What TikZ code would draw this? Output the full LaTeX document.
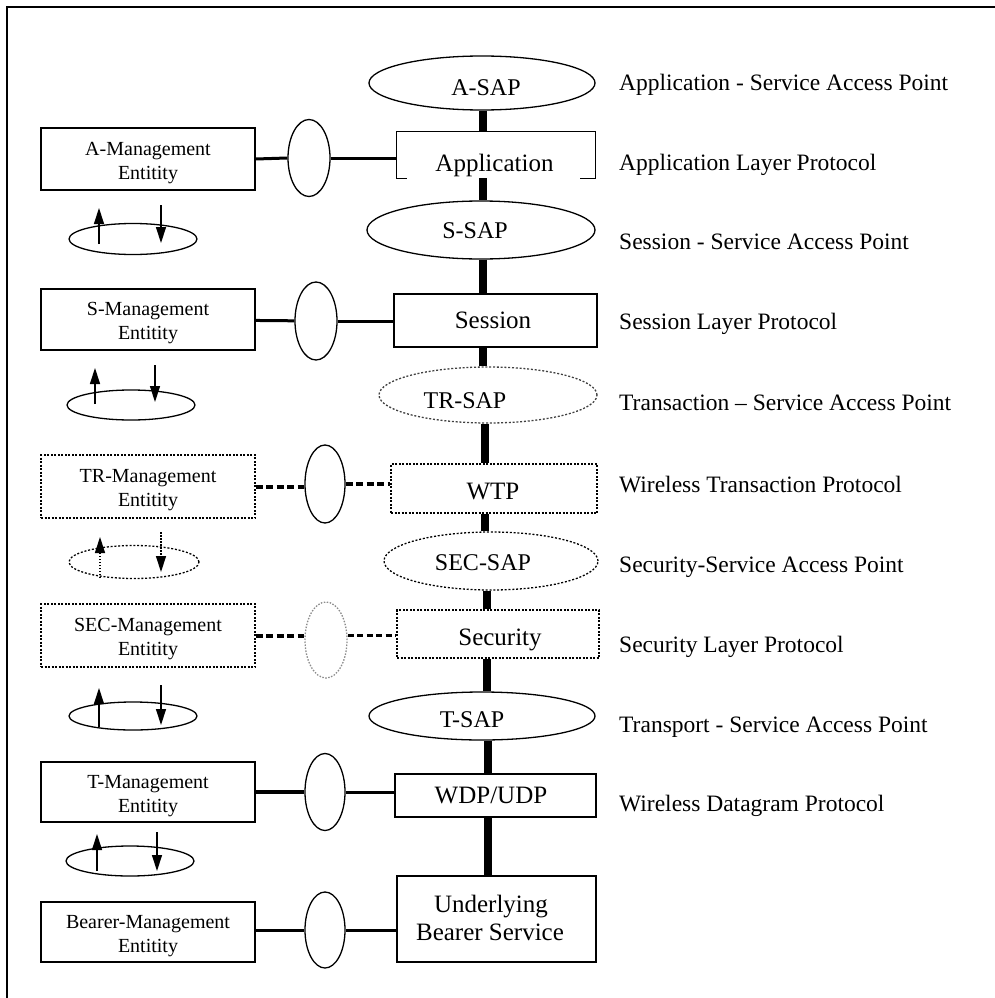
\documentclass[tikz,border=0pt]{standalone}
\usepackage{fontspec}
\setmainfont{Liberation Serif}
\usetikzlibrary{shapes.geometric,arrows.meta,calc}
\begin{document}
\begin{tikzpicture}[x=1pt,y=-1pt,
  box/.style={draw, line width=1.3pt, rectangle, inner sep=0pt},
  dbox/.style={box, dash pattern=on 2pt off 1.5pt},
  ell/.style={draw, ellipse, line width=1.3pt, inner sep=0pt},
  dell/.style={ell, dash pattern=on 2pt off 1.8pt},
  mg/.style={box, minimum width=214pt, align=center, font=\fontsize{20}{24}\selectfont},
  sap/.style={font=\fontsize{24}{28}\selectfont, inner sep=0pt, anchor=base},
  lay/.style={font=\fontsize{25}{29}\selectfont, inner sep=0pt, anchor=base},
  rl/.style={font=\fontsize{23.5}{28}\selectfont, inner sep=0pt, anchor=base west},
  vconn/.style={line width=8pt},
  hconn/.style={line width=3pt},
  dconn/.style={line width=4pt, dash pattern=on 7pt off 3.5pt},
  loopell/.style={ell, minimum width=128pt},
  uparr/.style={line width=1.3pt, -{Triangle[length=16pt,width=10pt]}},
]
\useasboundingbox (0,0) rectangle (995,998);
% frame
\draw[line width=2pt] (7,998) -- (7,7) -- (995,7);

% column coordinates
\coordinate (c483) at (483,0);
\coordinate (c485) at (485,0);
\coordinate (c487) at (487,0);
\coordinate (c488) at (488,0);

% central stack
\node[ell, minimum width=226pt, minimum height=54pt] (asap) at (482,83) {};
\node[sap] (asapT) at (486,95) {A-SAP};
\node[inner sep=0pt, minimum width=198pt, minimum height=46pt] (app) at (496,155) {};
\draw[line width=1.3pt] (app.south west) ++(10,0) -- (app.south west) -- (app.north west) -- (app.north east) -- (app.south east) -- ++(-15,0);
\node[lay] (appT) at (494.5,171) {Application};
\node[ell, minimum width=228pt, minimum height=58pt] (ssap) at (481,230) {};
\node[sap] (ssapT) at (475,238) {S-SAP};
\node[box, minimum width=203pt, minimum height=53pt] (session) at (495.5,320.5) {};
\node[lay] (sessionT) at (493,328) {Session};
\node[dell, draw=black!75, minimum width=218pt, minimum height=56pt] (trsap) at (488,395) {};
\node[sap] (trsapT) at (465,408) {TR-SAP};
\node[dbox, minimum width=206pt, minimum height=49pt] (wtp) at (494,488.5) {};
\node[lay] (wtpT) at (493,499) {WTP};
\node[dell, minimum width=214pt, minimum height=58pt] (secsap) at (491,561) {};
\node[sap] (secsapT) at (483,570) {SEC-SAP};
\node[dbox, minimum width=202pt, minimum height=48pt] (security) at (498,634) {};
\node[lay] (securityT) at (500,645) {Security};
\node[ell, minimum width=226pt, minimum height=48pt] (tsap) at (482,716) {};
\node[sap] (tsapT) at (472,727) {T-SAP};
\node[box, minimum width=201pt, minimum height=43pt] (wdp) at (495.5,795.5) {};
\node[lay] (wdpT) at (491,803) {WDP/UDP};
\node[box, minimum width=199pt, minimum height=86pt] (under) at (496.5,919) {};
\node[lay] (underT1) at (491,912) {Underlying};
\node[lay] (underT2) at (490,940) {Bearer Service};

% vertical connectors
\draw[vconn] (asap.south -| c483) -- (app.north -| c483);
\draw[vconn] (app.south -| c483) -- (ssap.north -| c483);
\draw[vconn] (ssap.south -| c483) -- (session.north -| c483);
\draw[vconn] (session.south -| c483) -- (trsap.north -| c483);
\draw[vconn] (trsap.south -| c485) -- (wtp.north -| c485);
\draw[vconn] (wtp.south -| c485) -- (secsap.north -| c485);
\draw[vconn] (secsap.south -| c487) -- (security.north -| c487);
\draw[vconn] (security.south -| c487) -- (tsap.north -| c487);
\draw[vconn] (tsap.south -| c488) -- (wdp.north -| c488);
\draw[vconn] (wdp.south -| c488) -- (under.north -| c488);

% management entities
\node[mg, minimum height=62pt] (amg) at (148,159) {\rule{0pt}{21pt}A-Management\\Entitity};
\node[mg, minimum height=61pt] (smg) at (148,319.5) {\rule{0pt}{21pt}S-Management\\Entitity};
\node[mg, dash pattern=on 2pt off 1.5pt, minimum height=63pt] (trmg) at (148,486.5) {\rule{0pt}{21pt}TR-Management\\Entitity};
\node[mg, dash pattern=on 2pt off 1.5pt, minimum height=63pt] (secmg) at (148,635.5) {\rule{0pt}{21pt}SEC-Management\\Entitity};
\node[mg, minimum height=60pt] (tmg) at (148,792) {\rule{0pt}{21pt}T-Management\\Entitity};
\node[mg, minimum height=60pt] (bmg) at (148,932) {\rule{0pt}{21pt}Bearer-Management\\Entitity};

% small vertical ellipses
\node[ell, minimum width=42pt, minimum height=77pt] (aell) at (309,158) {};
\node[ell, minimum width=42pt, minimum height=78pt] (sell) at (316,321) {};
\node[ell, minimum width=40pt, minimum height=78pt] (trell) at (325,484) {};
\node[ell, draw=black!45, dash pattern=on 1.5pt off 1.5pt, minimum width=42pt, minimum height=76pt] (secell) at (326,640) {};
\node[ell, minimum width=40pt, minimum height=77pt] (tell) at (325,792) {};
\node[ell, minimum width=40pt, minimum height=76pt] (bell) at (325,930) {};

% horizontal connectors
\draw[hconn] (amg.east) -- (aell.west);
\draw[hconn] (aell.east) -- (aell.east -| app.west);
\draw[hconn] (smg) -- (sell);
\draw[hconn] (sell.east) -- (sell.east -| session.west);
\draw[dconn] (trmg.east) -- (trmg.east -| trell.west);
\draw[dconn] (trell.east) -- (trell.east -| wtp.west);
\draw[dconn] (secmg.east) -- (secmg.east -| secell.west);
\draw[line width=3pt, dash pattern=on 6pt off 3.5pt] (secell.east |- secmg.east) -- (secmg.east -| security.west);
\draw[line width=4pt] (tmg.east |- tell.west) -- (tell.west);
\draw[hconn] (tell.east) -- (tell.east -| wdp.west);
\draw[hconn] (bmg.east |- bell.west) -- (bell.west);
\draw[hconn] (bell.east) -- (bell.east -| under.west);

% loops with arrows
\node[loopell, minimum height=31pt] (l1) at (133,239) {};
\draw[uparr] ($(l1.center)+(-34,5)$) -- ($(l1.center)+(-34,-31)$);
\draw[uparr] ($(l1.center)+(28,-34)$) -- ($(l1.center)+(28,4)$);
\node[loopell, minimum height=30pt] (l2) at (131,405) {};
\draw[uparr] ($(l2.center)+(-36,-1)$) -- ($(l2.center)+(-36,-37)$);
\draw[uparr] ($(l2.center)+(24,-40)$) -- ($(l2.center)+(24,-3)$);
\node[loopell, dash pattern=on 2pt off 1.8pt, minimum width=130pt, minimum height=33pt] (l3) at (134,562) {};
\draw[uparr, dash pattern=on 1.5pt off 1.5pt] ($(l3.center)+(-34,16)$) -- ($(l3.center)+(-34,-25)$);
\draw[uparr, dash pattern=on 1.5pt off 1.5pt] ($(l3.center)+(27,-30)$) -- ($(l3.center)+(27,10)$);
\node[loopell, minimum height=28pt] (l4) at (133,716) {};
\draw[uparr] ($(l4.center)+(-34,11)$) -- ($(l4.center)+(-34,-28)$);
\draw[uparr] ($(l4.center)+(28,-31)$) -- ($(l4.center)+(28,9)$);
\node[loopell, minimum height=30pt] (l5) at (130,861) {};
\draw[uparr] ($(l5.center)+(-33,10)$) -- ($(l5.center)+(-33,-27)$);
\draw[uparr] ($(l5.center)+(27,-29)$) -- ($(l5.center)+(27,10)$);

% right-hand labels
\node[rl] (r1) at (619,90) {Application - Service Access Point};
\node[rl] (r2) at (619,170) {Application Layer Protocol};
\node[rl] (r3) at (619,249) {Session - Service Access Point};
\node[rl] (r4) at (619,329) {Session Layer Protocol};
\node[rl] (r5) at (619,410) {Transaction – Service Access Point};
\node[rl] (r6) at (619,492) {Wireless Transaction Protocol};
\node[rl] (r7) at (619,572) {Security-Service Access Point};
\node[rl] (r8) at (619,652) {Security Layer Protocol};
\node[rl] (r9) at (619,732) {Transport - Service Access Point};
\node[rl] (r10) at (619,811) {Wireless Datagram Protocol};
\end{tikzpicture}
\end{document}
